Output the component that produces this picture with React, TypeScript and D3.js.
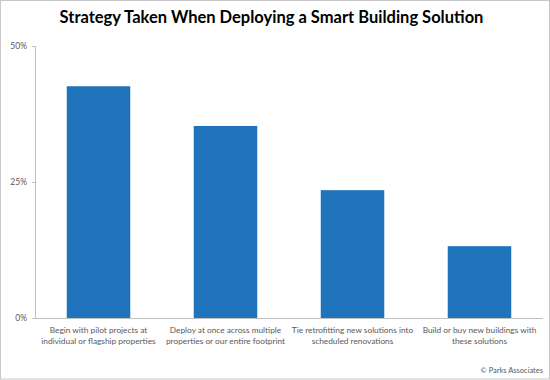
import React from "react";
import * as d3 from "d3";

const categories = [
  ["Begin with pilot projects at", "individual or flagship properties"],
  ["Deploy at once across multiple", "properties or our entire footprint"],
  ["Tie retrofitting new solutions into", "scheduled renovations"],
  ["Build or buy new buildings with", "these solutions"],
];
const values = [42.6, 35.3, 23.5, 13.2];
const yTicks = [0, 25, 50];

const W = 550;
const H = 380;
const margin = { left: 35, right: 7, top: 46, bottom: 62 };

export default function App() {
  const x = d3
    .scaleBand<number>()
    .domain(values.map((_, i) => i))
    .range([margin.left, W - margin.right])
    .paddingInner(0.5)
    .paddingOuter(0.25);
  const y = d3.scaleLinear().domain([0, 50]).range([H - margin.bottom, margin.top]);
  const font = "Lato, 'Open Sans', sans-serif";
  const axisColor = "#bfbfbf";
  const textColor = "#595959";
  return (
    <svg
      width={W}
      height={H}
      style={{ position: "absolute", left: 0, top: 0, display: "block" }}
      fontFamily={font}
    >
      <rect x={0.5} y={0.5} width={W - 1} height={H - 1.5} fill="#fff" stroke="#c8c8c8" />
      <text x={271.5} y={23} textAnchor="middle" fontSize={16.5} fontWeight="bold" fill="#000">
        Strategy Taken When Deploying a Smart Building Solution
      </text>
      {values.map((v, i) => (
        <rect
          key={i}
          x={x(i)}
          y={y(v)}
          width={x.bandwidth()}
          height={y(0) - y(v)}
          fill="#1e73bb"
        />
      ))}
      <line x1={margin.left + 0.5} x2={margin.left + 0.5} y1={y(50)} y2={y(0)} stroke={axisColor} />
      <line x1={margin.left - 3} x2={W - margin.right} y1={y(0) + 0.5} y2={y(0) + 0.5} stroke={axisColor} />
      {yTicks.map((t) => (
        <g key={t}>
          <line x1={margin.left - 3} x2={margin.left} y1={y(t) + 0.5} y2={y(t) + 0.5} stroke={axisColor} />
          <text x={margin.left - 8} y={y(t) + 3} textAnchor="end" fontSize={8.5} fill={textColor}>
            {t}%
          </text>
        </g>
      ))}
      {categories.map((lines, i) => {
        const cx = (x(i) as number) + x.bandwidth() / 2;
        return (
          <text key={i} x={cx} textAnchor="middle" fontSize={8.3} fill={textColor}>
            {lines.map((l, j) => (
              <tspan key={j} x={cx} y={333 + j * 11}>
                {l}
              </tspan>
            ))}
          </text>
        );
      })}
      <text x={543} y={372.5} textAnchor="end" fontSize={7.5} fill={textColor}>
        © Parks Associates
      </text>
    </svg>
  );
}
